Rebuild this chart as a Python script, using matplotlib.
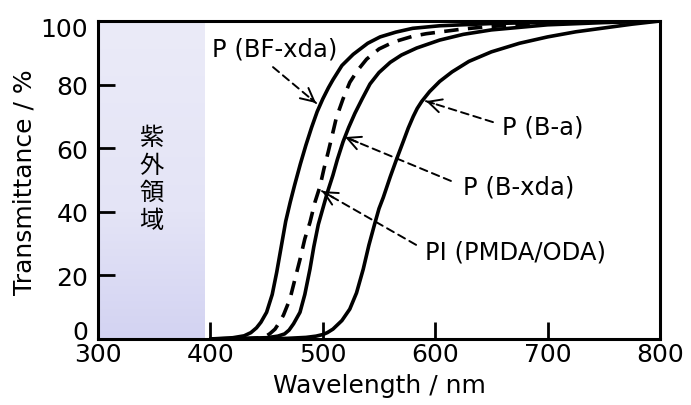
import numpy as np
import matplotlib
matplotlib.use('Agg')
import matplotlib.pyplot as plt
from matplotlib.colors import LinearSegmentedColormap
from matplotlib.transforms import ScaledTranslation

plt.rcParams['font.family'] = ['DejaVu Sans', 'Noto Sans CJK JP']

# Transmittance curves (wavelength nm, transmittance %)
wl_bf_xda = [400, 420, 430, 436, 441, 445, 450, 455, 459, 463, 467, 471, 475, 480, 485, 490, 495,
             500, 505, 509, 517, 527, 540, 551, 565, 580, 604, 650, 700, 750, 800]
tr_bf_xda = [0.0, 0.4, 1.0, 2.0, 3.5, 5.3, 8.4, 14.0, 21.0, 29.0, 37.0, 43.0, 48.5, 55.0, 61.0, 66.5, 71.5,
             75.5, 79.0, 81.5, 86.0, 89.5, 93.0, 95.0, 96.5, 97.7, 98.5, 99.2, 99.6, 99.8, 100.0]

wl_pi = [430, 445, 450, 453, 457.5, 461, 465, 470.8, 475, 479.7, 484, 488.6, 493, 497.5, 501, 504.8, 508,
         512, 518, 524, 531, 539, 550, 563, 580, 592, 625, 650, 700, 750, 800]
tr_pi = [0.0, 0.4, 1.0, 1.7, 3.1, 5.0, 7.5, 12.6, 18.5, 25.0, 31.5, 36.7, 43.0, 48.0, 53.5, 58.8, 63.5,
         69.5, 75.5, 80.7, 84.5, 88.0, 91.2, 93.4, 95.2, 96.0, 97.5, 98.3, 99.3, 99.7, 100.0]

wl_b_xda = [400, 450, 460, 466, 470, 474, 479.7, 484, 488.6, 492, 496, 500.4, 504, 509, 513, 518, 523,
            528.6, 535, 542, 550, 560, 570, 583.5, 604, 625, 650, 700, 750, 800]
tr_b_xda = [0.0, 0.4, 0.9, 1.6, 2.8, 4.8, 8.4, 14.0, 22.0, 29.0, 36.0, 41.5, 46.0, 51.5, 56.5, 62.0, 66.5,
            71.0, 75.5, 80.2, 83.8, 87.0, 89.3, 91.5, 94.0, 95.8, 97.2, 98.8, 99.5, 100.0]

wl_b_a = [400, 440, 468, 485, 494, 500, 504, 509, 517, 524, 530, 536, 541, 546, 550, 553.8, 560,
          565.7, 572, 576, 580.5, 584, 588, 595, 604, 615, 630, 650, 675, 700, 725, 750, 775, 800]
tr_b_a = [0.0, 0.0, 0.2, 0.5, 0.9, 1.4, 2.0, 3.1, 5.8, 9.4, 14.5, 22.0, 29.5, 36.0, 41.0, 44.5, 51.0,
          56.6, 62.5, 66.3, 70.0, 72.5, 74.7, 77.8, 81.0, 84.0, 87.3, 90.3, 93.0, 95.0, 96.6, 97.8, 99.0, 100.0]

# labels: text, text anchor (nm, %), arrow tail, arrow tip
labels = ['P (BF-xda)', 'P (B-a)', 'P (B-xda)', 'PI (PMDA/ODA)']
label_pos = [(401.5, 91.5), (659.5, 66.7), (624.5, 48.1), (591.0, 27.4)]
arrow_tail = [(455.7, 85.5), (651.4, 68.2), (614.0, 49.7), (583.0, 29.6)]
arrow_tip = [(494.0, 74.2), (591.8, 74.8), (519.8, 63.5), (499.3, 46.5)]

uv_range = (300, 395)

fig = plt.figure(figsize=(6.91, 4.06), dpi=100)
ax = fig.add_axes([98 / 691, 1 - 340 / 406, 562 / 691, 318 / 406])

# UV region with soft gradient
grad = np.linspace(0, 1, 256).reshape(-1, 1)
cmap = LinearSegmentedColormap.from_list(
    'uv', [(0.0, '#d3d3f2'), (0.4, '#e4e4f6'), (1.0, '#ebebf8')])
ax.imshow(grad, extent=(uv_range[0], uv_range[1], 0, 100), origin='lower',
          aspect='auto', cmap=cmap, zorder=0)
ax.text(347.5, 50.5, '\n'.join('紫外領域'), ha='center', va='center', fontsize=17.5,
        family=['Noto Sans CJK JP'], linespacing=1.08)

lw = 2.6
kw = dict(color='black', lw=lw, solid_capstyle='round', solid_joinstyle='round')
ax.plot(wl_bf_xda, tr_bf_xda, **kw)
ax.plot(wl_pi, tr_pi, color='black', lw=lw, ls=(0, (4.0, 2.6)), dash_joinstyle='round')
ax.plot(wl_b_xda, tr_b_xda, **kw)
ax.plot(wl_b_a, tr_b_a, **kw)

for txt, pos, tail, tip in zip(labels, label_pos, arrow_tail, arrow_tip):
    ax.text(pos[0], pos[1], txt, ha='left', va='center', fontsize=17.5)
    ax.annotate('', xy=tip, xytext=tail,
                arrowprops=dict(arrowstyle='-', color='black', lw=1.4,
                                ls=(0, (4, 2.6)), shrinkA=0, shrinkB=0))
    # solid arrow head
    hx = tip[0] + (tail[0] - tip[0]) * 0.12
    hy = tip[1] + (tail[1] - tip[1]) * 0.12
    ax.annotate('', xy=tip, xytext=(hx, hy),
                arrowprops=dict(arrowstyle='->', color='black', lw=1.4,
                                mutation_scale=24, shrinkA=0, shrinkB=0))

ax.set_xlim(300, 800)
ax.set_ylim(0, 100)
ax.set_xticks([300, 400, 500, 600, 700, 800])
ax.set_yticks([0, 20, 40, 60, 80, 100])
ax.tick_params(direction='in', length=12, width=2, labelsize=18)
ax.tick_params(axis='x', pad=2.5)
ax.tick_params(axis='y', pad=7)
for sp in ax.spines.values():
    sp.set_linewidth(2.2)

# end labels of the y axis sit a little inside the axis range
ylabels = ax.get_yticklabels()
ylabels[0].set_transform(ylabels[0].get_transform() + ScaledTranslation(0, 6.5 / 72, fig.dpi_scale_trans))
ylabels[-1].set_transform(ylabels[-1].get_transform() + ScaledTranslation(0, -4.3 / 72, fig.dpi_scale_trans))

fig.text(379 / 691, 1 - 386 / 406, 'Wavelength / nm', ha='center', va='center', fontsize=18)
fig.text(25 / 691, 1 - 182 / 406, 'Transmittance / %', ha='center', va='center',
         rotation=90, fontsize=18)

fig.savefig('out.png', dpi=100)
